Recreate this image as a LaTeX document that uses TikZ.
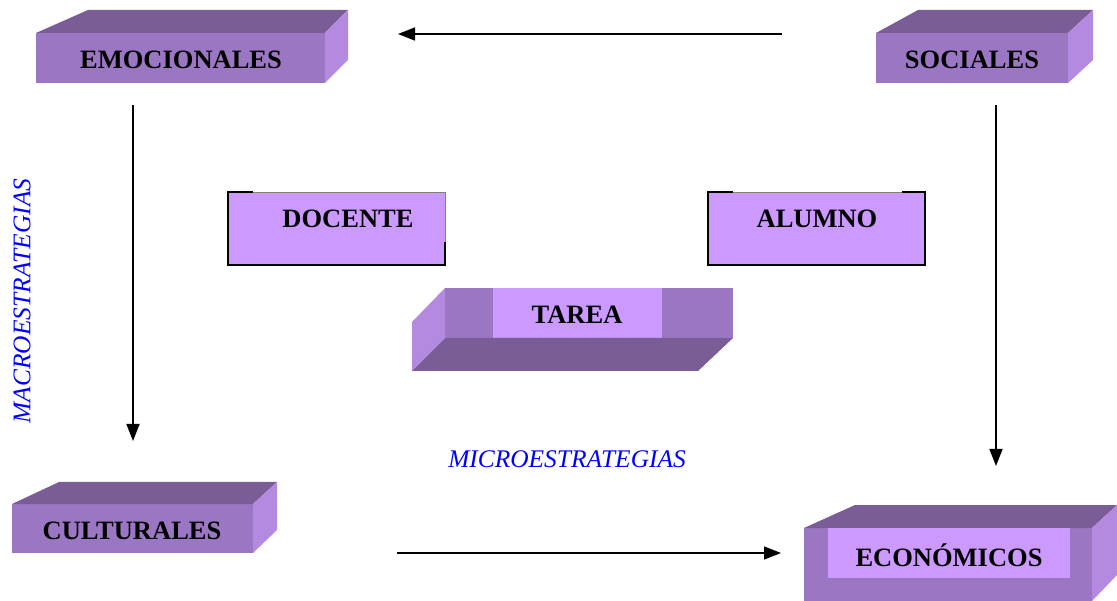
\documentclass[tikz,border=0pt]{standalone}
\usepackage{fontspec}
\setmainfont{Liberation Serif}
\usetikzlibrary{arrows.meta}
\definecolor{topc}{HTML}{7A5C96}
\definecolor{frontc}{HTML}{9B77C3}
\definecolor{sidec}{HTML}{B48AE0}
\definecolor{lightc}{HTML}{CC99FF}
\definecolor{edgec}{HTML}{808080}
\definecolor{stratc}{HTML}{0000FF}
\tikzset{
  lbl/.style={inner sep=0pt, font=\fontsize{26.5}{30}\selectfont\bfseries, text=black},
  strat/.style={inner sep=0pt, font=\fontsize{25.4}{28}\selectfont\itshape, text=stratc},
  conn/.style={line width=1.5pt, -{Triangle[length=17pt,width=13pt]}},
  blk/.style={line width=1.6pt, black},
  gry/.style={line width=0.8pt, edgec}
}
\begin{document}
\begin{tikzpicture}[x=1pt,y=-1pt]
\useasboundingbox (0,0) rectangle (1117,601);
% EMOCIONALES
\fill[frontc] (36,33) rectangle (325,83);
\fill[topc] (36,33) -- (88,10) -- (348,10) -- (325,33) -- cycle;
\fill[sidec] (325,33) -- (348,10) -- (348,60) -- (325,83) -- cycle;
\node[lbl] (emo) at (181,60) {EMOCIONALES};
% SOCIALES
\fill[frontc] (876,33) rectangle (1068,83);
\fill[topc] (876,33) -- (918,10) -- (1093,10) -- (1068,33) -- cycle;
\fill[sidec] (1068,33) -- (1093,10) -- (1093,60) -- (1068,83) -- cycle;
\node[lbl] (soc) at (972,60) {SOCIALES};
% CULTURALES
\fill[frontc] (12,504) rectangle (253,553);
\fill[topc] (12,504) -- (59,482) -- (277,482) -- (253,504) -- cycle;
\fill[sidec] (253,504) -- (277,482) -- (277,530) -- (253,553) -- cycle;
\node[lbl] (cul) at (132,531) {CULTURALES};
% ECONOMICOS
\fill[frontc] (804,528) rectangle (1092,601);
\fill[topc] (804,528) -- (855,505) -- (1117,505) -- (1092,528) -- cycle;
\fill[sidec] (1092,528) -- (1117,505) -- (1117,575) -- (1092,601) -- cycle;
\fill[lightc] (828,528) rectangle (1070,578);
\node[lbl] (eco) at (949,555) {ECONÓMICOS};
% TAREA
\fill[frontc] (445,288) rectangle (733,338);
\fill[lightc] (493,288) rectangle (662,338);
\fill[sidec] (445,288) -- (412,322) -- (412,371) -- (445,338) -- cycle;
\fill[topc] (412,371) -- (445,338) -- (733,338) -- (698,371) -- cycle;
\node[lbl] (tar) at (577,315) {TAREA};
% DOCENTE
\fill[lightc] (228,192) rectangle (445,265);
\draw[gry] (228,192) rectangle (445,265);
\draw[blk] (253,192) -- (228,192) -- (228,265) -- (445,265) -- (445,242);
\node[lbl] (doc) at (348,219) {DOCENTE};
% ALUMNO
\fill[lightc] (708,192) rectangle (925,265);
\draw[gry] (708,192) rectangle (925,265);
\draw[blk] (733,192) -- (708,192) -- (708,265) -- (925,265) -- (925,192) -- (902,192);
\node[lbl] (alu) at (817,219) {ALUMNO};
% strategy labels
\node[strat, rotate=90] (macro) at (22,301) {MACROESTRATEGIAS};
\node[strat] (micro) at (567,459) {MICROESTRATEGIAS};
% connectors
\coordinate (a1s) at (782,34);  \coordinate (a1e) at (398,34);
\coordinate (a2s) at (133,105); \coordinate (a2e) at (133,441);
\coordinate (a3s) at (996,105); \coordinate (a3e) at (996,466);
\coordinate (a4s) at (397,553); \coordinate (a4e) at (781,553);
\draw[conn] (a1s) -- (a1e);
\draw[conn] (a2s) -- (a2e);
\draw[conn] (a3s) -- (a3e);
\draw[conn] (a4s) -- (a4e);
\end{tikzpicture}
\end{document}
